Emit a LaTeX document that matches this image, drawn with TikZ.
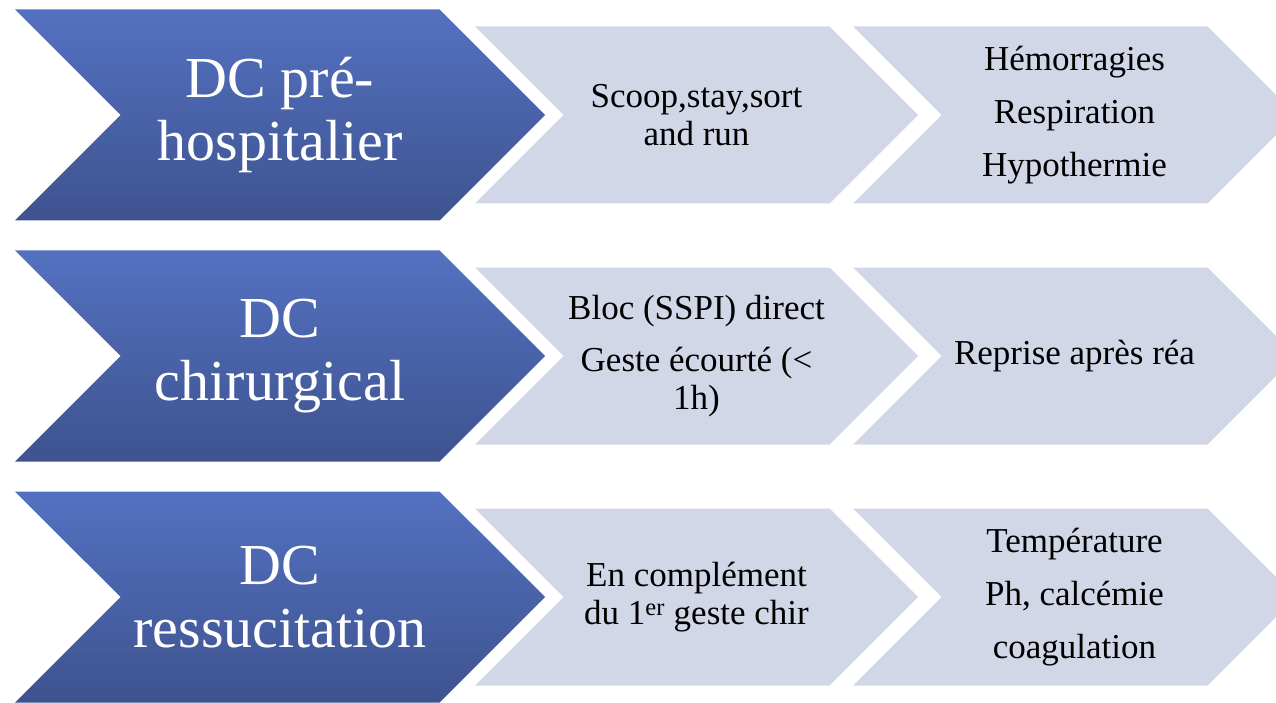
\documentclass[tikz,border=0pt]{standalone}
\usepackage{fontspec}
\setmainfont{Liberation Serif}
\usepackage{xcolor}
\usetikzlibrary{shapes.symbols}

\definecolor{chevtop}{RGB}{84,113,193}
\definecolor{chevbot}{RGB}{62,83,143}
\definecolor{chevgrey}{RGB}{210,215,232}

\begin{document}
\begin{tikzpicture}[
  x=1pt, y=-1pt,
  chev/.style={signal, signal from=west, signal to=east, signal pointer angle=90, inner sep=0pt, align=center},
  phase/.style={chev, minimum width=530pt, minimum height=211pt, top color=chevtop, bottom color=chevbot, text=white, font=\fontsize{58}{63}\selectfont},
  step box/.style={chev, minimum width=443pt, minimum height=177pt, fill=chevgrey, text=black, font=\fontsize{35}{38}\selectfont}
]
\useasboundingbox (0,0) rectangle (1276,703);
\clip (0,0) rectangle (1276,703);
% pre-hospitalier
\node[phase] (pre) at (280,115) {DC pré-\\hospitalier};
\node[step box] (prea) at (696.5,115) {Scoop,stay,sort\\and run};
\node[step box] (preb) at (1074.5,115) {Hémorragies\\[15pt]Respiration\\[15pt]Hypothermie};
% chirurgical
\node[phase] (chir) at (280,356) {DC\\chirurgical};
\node[step box] (chira) at (696.5,356) {Bloc (SSPI) direct\\[14pt]Geste écourté (<\\1h)};
\node[step box] (chirb) at (1074.5,356) {Reprise après réa};
% ressucitation
\node[phase] (ress) at (280,597) {DC\\ressucitation};
\node[step box] (ressa) at (696.5,597) {En complément\\du 1\textsuperscript{er} geste chir};
\node[step box] (ressb) at (1074.5,597) {Température\\[15pt]Ph, calcémie\\[15pt]coagulation};
\end{tikzpicture}
\end{document}
